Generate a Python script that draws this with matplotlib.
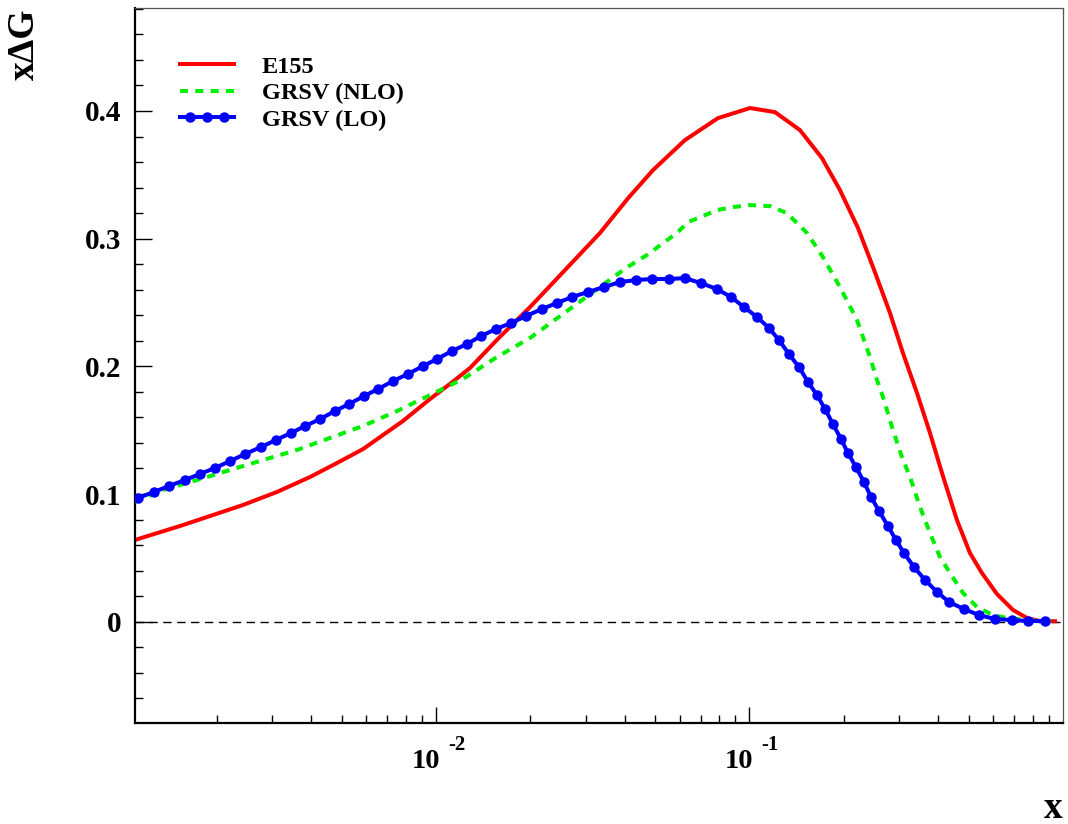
import matplotlib
matplotlib.use("Agg")
from matplotlib import pyplot as plt
from matplotlib import transforms
from matplotlib.lines import Line2D
from matplotlib.legend_handler import HandlerLine2D, HandlerTuple
from matplotlib.ticker import FixedLocator, MultipleLocator, NullFormatter

plt.rcParams["font.family"] = ["Liberation Serif", "DejaVu Serif"]
plt.rcParams["font.weight"] = "bold"

# E155 fit
e155_x = [1.096e-3, 1.560e-3, 2.423e-3, 3.110e-3, 3.964e-3, 4.833e-3, 5.852e-3,
          7.847e-3, 9.570e-3, 1.108e-2, 1.284e-2, 1.580e-2, 1.995e-2, 3.334e-2,
          4.110e-2, 4.923e-2, 6.226e-2, 7.932e-2, 1.004e-1, 1.206e-1, 1.449e-1,
          1.703e-1, 1.943e-1, 2.219e-1, 2.477e-1, 2.807e-1, 3.087e-1, 3.422e-1,
          3.765e-1, 4.141e-1, 4.589e-1, 5.049e-1, 5.514e-1, 6.156e-1, 6.925e-1,
          7.674e-1, 8.447e-1, 9.430e-1]
e155_y = [0.0640, 0.0757, 0.0914, 0.1016, 0.1133, 0.1243, 0.1352,
          0.1572, 0.1744, 0.1862, 0.1987, 0.2218, 0.2464, 0.3044,
          0.3320, 0.3537, 0.3772, 0.3944, 0.4023, 0.3991, 0.3850,
          0.3631, 0.3381, 0.3083, 0.2778, 0.2417, 0.2104, 0.1791,
          0.1478, 0.1140, 0.0796, 0.0538, 0.0381, 0.0217, 0.0092,
          0.0029, 0.0005, 0.0003]

# GRSV NLO
nlo_x = [1.096e-3, 1.346e-3, 1.729e-3, 2.203e-3, 2.806e-3, 3.603e-3, 4.590e-3,
         5.852e-3, 7.511e-3, 9.570e-3, 1.219e-2, 1.565e-2, 1.995e-2, 3.334e-2,
         4.037e-2, 4.816e-2, 5.297e-2, 5.870e-2, 6.365e-2, 7.108e-2, 7.874e-2,
         8.859e-2, 1.004e-1, 1.162e-1, 1.317e-1, 1.526e-1, 1.715e-1, 1.943e-1,
         2.202e-1, 2.423e-1, 2.551e-1, 2.666e-1, 2.869e-1, 3.064e-1, 3.251e-1,
         3.499e-1, 3.765e-1, 4.052e-1, 4.361e-1, 4.798e-1, 5.315e-1, 5.977e-1,
         6.627e-1, 8.447e-1, 9.430e-1]
nlo_y = [0.0937, 0.1031, 0.1110, 0.1188, 0.1266, 0.1345, 0.1439,
         0.1533, 0.1650, 0.1775, 0.1901, 0.2073, 0.2222, 0.2621,
         0.2770, 0.2887, 0.2966, 0.3044, 0.3130, 0.3177, 0.3224,
         0.3247, 0.3263, 0.3255, 0.3200, 0.3044, 0.2856, 0.2621,
         0.2363, 0.2073, 0.1893, 0.1760, 0.1501, 0.1290, 0.1133,
         0.0898, 0.0695, 0.0507, 0.0381, 0.0225, 0.0115, 0.0052,
         0.0029, 0.0005, 0.0003]

# GRSV LO
lo_x = [1.120e-3, 1.260e-3, 1.407e-3, 1.583e-3, 1.767e-3, 1.973e-3, 2.203e-3,
        2.459e-3, 2.765e-3, 3.087e-3, 3.448e-3, 3.821e-3, 4.266e-3, 4.762e-3,
        5.280e-3, 5.895e-3, 6.531e-3, 7.293e-3, 8.141e-3, 9.090e-3, 1.007e-2,
        1.124e-2, 1.256e-2, 1.391e-2, 1.553e-2, 1.734e-2, 1.937e-2, 2.178e-2,
        2.432e-2, 2.715e-2, 3.054e-2, 3.435e-2, 3.864e-2, 4.345e-2, 4.887e-2,
        5.536e-2, 6.226e-2, 7.004e-2, 7.874e-2, 8.729e-2, 9.605e-2, 1.057e-1,
        1.154e-1, 1.242e-1, 1.336e-1, 1.438e-1, 1.537e-1, 1.642e-1, 1.741e-1,
        1.846e-1, 1.958e-1, 2.061e-1, 2.186e-1, 2.318e-1, 2.441e-1, 2.589e-1,
        2.765e-1, 2.932e-1, 3.110e-1, 3.348e-1, 3.629e-1, 3.964e-1, 4.329e-1,
        4.833e-1, 5.394e-1, 6.066e-1, 6.874e-1, 7.731e-1, 8.763e-1]
lo_y = [0.0969, 0.1016, 0.1063, 0.1110, 0.1157, 0.1204, 0.1258,
        0.1313, 0.1368, 0.1423, 0.1478, 0.1532, 0.1587, 0.1650,
        0.1705, 0.1767, 0.1822, 0.1885, 0.1940, 0.2002, 0.2057,
        0.2120, 0.2175, 0.2237, 0.2292, 0.2339, 0.2394, 0.2449,
        0.2496, 0.2543, 0.2582, 0.2621, 0.2660, 0.2676, 0.2684,
        0.2684, 0.2691, 0.2652, 0.2605, 0.2543, 0.2464, 0.2386,
        0.2300, 0.2206, 0.2096, 0.1995, 0.1877, 0.1775, 0.1666,
        0.1548, 0.1431, 0.1321, 0.1211, 0.1094, 0.0977, 0.0867,
        0.0749, 0.0640, 0.0538, 0.0428, 0.0327, 0.0233, 0.0154,
        0.0099, 0.0052, 0.0021, 0.0013, 0.0005, 0.0005]

x_decades = [1e-2, 1e-1]
x_exponents = ["-2", "-1"]
y_ticks = [0.0, 0.1, 0.2, 0.3, 0.4]
y_ticklabels = ["0", "0.1", "0.2", "0.3", "0.4"]

RED, GREEN, BLUE = "#ff0000", "#00ee00", "#0000ff"

fig = plt.figure(figsize=(10.68, 8.24), dpi=100)
ax = fig.add_axes([0.1264, 0.1222, 0.8689, 0.8677])

ax.axhline(0, color="black", linewidth=1.0, dashes=(6, 4), zorder=1)

l_e155, = ax.plot(e155_x, e155_y, color=RED, linewidth=2.9, zorder=2)
l_nlo, = ax.plot(nlo_x, nlo_y, color=GREEN, linewidth=2.9, dashes=(2.0, 1.8),
                 zorder=3)
ax.plot(lo_x, lo_y, color=BLUE, linewidth=2.9, marker="o", markersize=6.5,
        zorder=4)

ax.set_xscale("log")
ax.set_xlim(1.096e-3, 1.0)
ax.set_ylim(-0.0796, 0.4804)

minor_x = [m * 10.0 ** e for e in (-3, -2, -1) for m in range(2, 10)]
ax.xaxis.set_major_locator(FixedLocator(x_decades))
ax.xaxis.set_minor_locator(FixedLocator(minor_x))
ax.xaxis.set_major_formatter(NullFormatter())
ax.xaxis.set_minor_formatter(NullFormatter())

ax.yaxis.set_major_locator(FixedLocator(y_ticks))
ax.yaxis.set_minor_locator(MultipleLocator(0.02))
ax.set_yticklabels(y_ticklabels, fontsize=21, fontweight="bold")

ax.tick_params(which="both", direction="in", top=False, right=False,
               color="black", width=1.0)
ax.tick_params(axis="y", which="major", length=12.2, pad=10)
ax.tick_params(axis="y", which="minor", length=5.8)
ax.tick_params(axis="x", which="major", length=11.5)
ax.tick_params(axis="x", which="minor", length=5.8)

for side in ("left", "bottom"):
    ax.spines[side].set_linewidth(1.6)
    ax.spines[side].set_color("black")
for side in ("top", "right"):
    ax.spines[side].set_linewidth(0.9)
    ax.spines[side].set_color("#555555")

# decade labels drawn as "10" plus a raised exponent
xtrans = ax.get_xaxis_transform()
for pos, exp in zip(x_decades, x_exponents):
    base = transforms.offset_copy(xtrans, fig=fig, x=4, y=-45, units="dots")
    ax.text(pos, 0, "10", transform=base, ha="right", va="baseline",
            fontsize=20.5, fontweight="bold")
    sup = transforms.offset_copy(xtrans, fig=fig, x=12, y=-27, units="dots")
    ax.text(pos, 0, exp, transform=sup, ha="left", va="baseline",
            fontsize=15, fontweight="bold")

fig.text(24 / 1068, 1 - 8 / 824, "x\u0394G", rotation=90, ha="center", va="top",
         fontsize=27, fontweight="bold")
fig.text(1063 / 1068, 1 - 818 / 824, "x", ha="right", va="baseline",
         fontsize=27, fontweight="bold")

# legend: full-length line for the LO entry with three markers inset
lo_line = Line2D([], [], color=BLUE, linewidth=2.9)
lo_dots = Line2D([], [], color=BLUE, linestyle="none", marker="o", markersize=6.5)
ax.legend([l_e155, l_nlo, (lo_line, lo_dots)],
          ["E155", "GRSV (NLO)", "GRSV (LO)"],
          handler_map={Line2D: HandlerLine2D(marker_pad=0),
                       lo_dots: HandlerLine2D(marker_pad=0.43, numpoints=3),
                       tuple: HandlerTuple(ndivide=1, pad=0)},
          loc="upper left", bbox_to_anchor=(45 / 928, (715 - 47.5) / 715),
          frameon=False, borderpad=0, borderaxespad=0, handlelength=2.22,
          handletextpad=1.15, labelspacing=0.18, numpoints=2,
          prop={"family": ["Liberation Serif", "DejaVu Serif"],
                "weight": "bold", "size": 17.5})

fig.savefig("out.png", dpi=100)
